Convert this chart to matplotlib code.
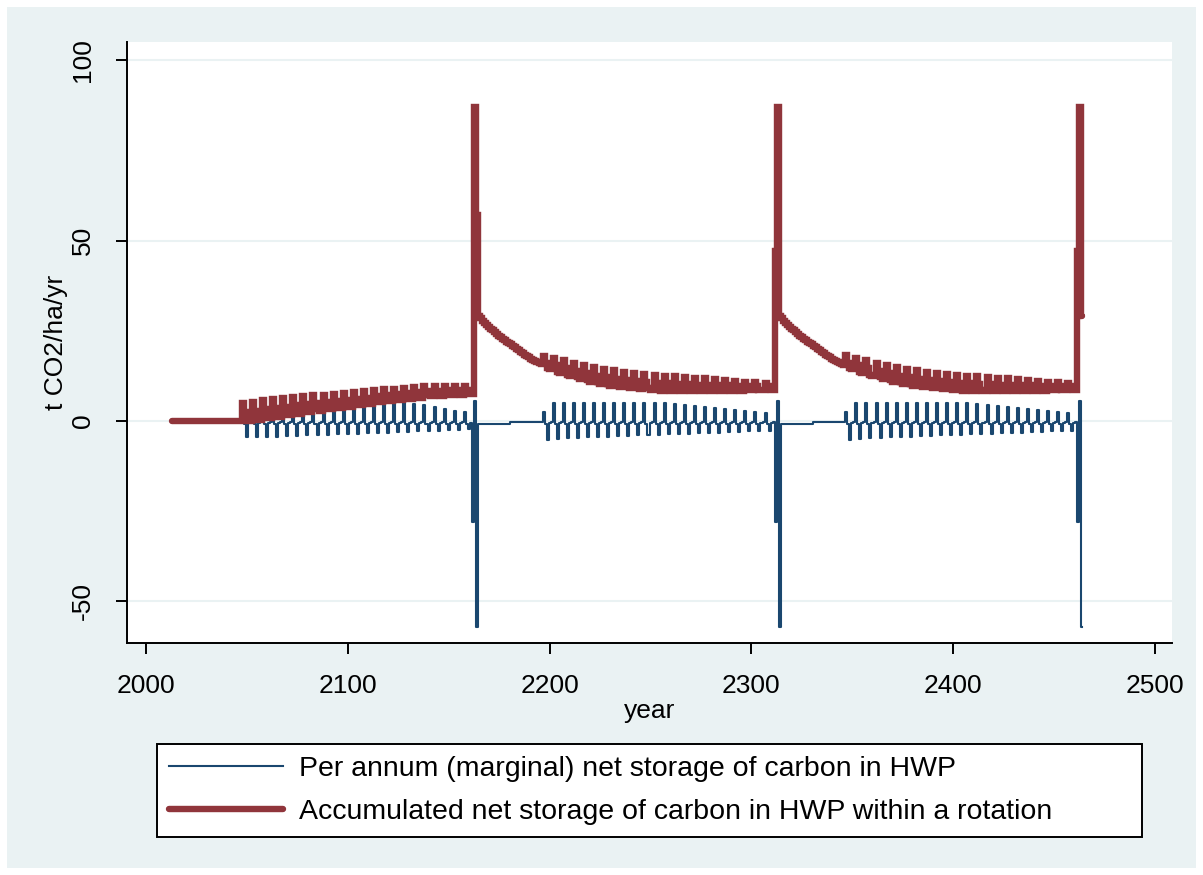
import numpy as np
import matplotlib
matplotlib.use('Agg')
from matplotlib import pyplot as plt
from matplotlib.patches import Rectangle

plt.rcParams['font.family'] = ['Liberation Sans', 'DejaVu Sans']

first_year = 2013

# accumulated net storage of carbon in HWP within a rotation (t CO2/ha/yr), one value per year
acc_before_thin = [  # 2013-2047
    0.0, 0.0, 0.0, 0.0, 0.0, 0.0, 0.0,
    0.0, 0.0, 0.0, 0.0, 0.0, 0.0, 0.0,
    0.0, 0.0, 0.0, 0.0, 0.0, 0.0, 0.0,
    0.0, 0.0, 0.0, 0.0, 0.0, 0.0, 0.0,
    0.0, 0.0, 0.0, 0.0, 0.0, 0.0, 0.0,
]
acc_rot1 = [  # 2048-2162, thinning every 5 years
    5.0, 2.5, 0.5, 0.0, 0.0,
    5.4, 2.9, 0.9, 0.4, 0.4,
    5.7, 3.2, 1.3, 0.8, 0.8,
    6.0, 3.6, 1.7, 1.2, 1.2,
    6.3, 4.0, 2.1, 1.6, 1.6,
    6.6, 4.3, 2.5, 2.0, 2.0,
    6.9, 4.7, 2.9, 2.4, 2.4,
    7.1, 5.0, 3.2, 2.8, 2.8,
    7.3, 5.3, 3.6, 3.2, 3.2,
    7.5, 5.6, 4.0, 3.6, 3.6,
    7.7, 5.9, 4.4, 4.0, 4.0,
    7.9, 6.2, 4.8, 4.4, 4.4,
    8.2, 6.5, 5.1, 4.8, 4.8,
    8.5, 6.9, 5.5, 5.2, 5.2,
    8.8, 7.2, 5.9, 5.6, 5.6,
    9.0, 7.5, 6.2, 5.9, 5.9,
    9.2, 7.7, 6.5, 6.2, 6.2,
    9.4, 8.0, 6.8, 6.5, 6.5,
    9.6, 8.2, 7.1, 6.8, 6.8,
    9.7, 8.4, 7.3, 7.0, 7.0,
    9.8, 8.5, 7.5, 7.2, 7.2,
    9.7, 8.5, 7.5, 7.3, 7.3,
    9.6, 8.5, 7.6, 7.4, 7.4,
]
acc_harvest1 = [87.0, 57.0]  # 2163-2164
acc_regrow2 = [  # 2165-2196
    29.0, 28.4, 27.8, 27.2, 26.6, 26.1, 25.6, 25.1,
    24.6, 24.1, 23.6, 23.2, 22.8, 22.4, 22.0, 21.6,
    21.2, 20.8, 20.4, 20.0, 19.6, 19.2, 18.8, 18.4,
    18.0, 17.6, 17.3, 17.0, 16.7, 16.4, 16.1, 15.8,
]
acc_rot2 = [  # 2197-2311
    18.1, 16.2, 14.7, 14.3, 14.3,
    17.5, 15.4, 13.7, 13.3, 13.3,
    16.8, 14.6, 12.8, 12.4, 12.4,
    16.1, 13.9, 12.1, 11.6, 11.6,
    15.5, 13.2, 11.4, 10.9, 10.9,
    14.9, 12.6, 10.8, 10.3, 10.3,
    14.4, 12.1, 10.3, 9.8, 9.8,
    14.0, 11.7, 9.9, 9.4, 9.4,
    13.7, 11.4, 9.6, 9.1, 9.1,
    13.3, 11.1, 9.3, 8.8, 8.8,
    13.1, 10.9, 9.1, 8.6, 8.6,
    12.8, 10.6, 8.8, 8.4, 8.4,
    12.6, 10.5, 8.7, 8.3, 8.3,
    12.4, 10.3, 8.6, 8.2, 8.2,
    12.2, 10.2, 8.6, 8.2, 8.2,
    12.0, 10.1, 8.6, 8.2, 8.2,
    11.9, 10.1, 8.7, 8.3, 8.3,
    11.6, 10.0, 8.6, 8.3, 8.3,
    11.4, 9.9, 8.7, 8.4, 8.4,
    11.1, 9.8, 8.7, 8.4, 8.4,
    10.9, 9.7, 8.7, 8.5, 8.5,
    10.7, 9.6, 8.7, 8.5, 8.5,
    10.6, 9.6, 8.8, 8.6, 8.6,
]
acc_harvest2 = [47.0, 87.0]  # 2312-2313
acc_regrow3 = [  # 2314-2346
    29.0, 28.4, 27.8, 27.2, 26.6, 26.1, 25.6, 25.1,
    24.6, 24.1, 23.6, 23.2, 22.8, 22.4, 22.0, 21.6,
    21.2, 20.8, 20.4, 20.0, 19.6, 19.2, 18.8, 18.4,
    18.0, 17.6, 17.3, 17.0, 16.7, 16.4, 16.1, 15.8, 15.5,
]
acc_rot3 = [  # 2347-2461
    18.2, 16.2, 14.7, 14.3, 14.3,
    17.5, 15.4, 13.7, 13.3, 13.3,
    16.8, 14.6, 12.8, 12.4, 12.4,
    16.1, 13.9, 12.1, 11.6, 11.6,
    15.5, 13.2, 11.4, 10.9, 10.9,
    14.9, 12.6, 10.8, 10.3, 10.3,
    14.4, 12.1, 10.3, 9.8, 9.8,
    14.0, 11.7, 9.9, 9.4, 9.4,
    13.7, 11.4, 9.6, 9.1, 9.1,
    13.3, 11.1, 9.3, 8.8, 8.8,
    13.1, 10.9, 9.1, 8.6, 8.6,
    12.8, 10.6, 8.8, 8.4, 8.4,
    12.6, 10.5, 8.7, 8.3, 8.3,
    12.4, 10.3, 8.6, 8.2, 8.2,
    12.2, 10.2, 8.6, 8.2, 8.2,
    12.0, 10.1, 8.6, 8.2, 8.2,
    11.9, 10.1, 8.7, 8.3, 8.3,
    11.6, 10.0, 8.6, 8.3, 8.3,
    11.4, 9.9, 8.7, 8.4, 8.4,
    11.1, 9.8, 8.7, 8.4, 8.4,
    10.9, 9.7, 8.7, 8.5, 8.5,
    10.7, 9.6, 8.7, 8.5, 8.5,
    10.6, 9.6, 8.8, 8.6, 8.6,
]
acc_harvest3 = [47.0, 87.0, 29.0]  # 2462-2464

# per annum (marginal) net storage, one value per year
ann_before_thin = [  # 2013-2047
    0.0, 0.0, 0.0, 0.0, 0.0, 0.0, 0.0,
    0.0, 0.0, 0.0, 0.0, 0.0, 0.0, 0.0,
    0.0, 0.0, 0.0, 0.0, 0.0, 0.0, 0.0,
    0.0, 0.0, 0.0, 0.0, 0.0, 0.0, 0.0,
    0.0, 0.0, 0.0, 0.0, 0.0, 0.0, 0.0,
]
ann_rot1 = [  # 2048-2161
    1.0, -0.8, -4.4, -0.6, -0.3,
    1.2, -0.8, -4.4, -0.6, -0.3,
    1.4, -0.8, -4.3, -0.6, -0.3,
    1.6, -0.8, -4.3, -0.6, -0.3,
    1.8, -0.8, -4.2, -0.6, -0.3,
    2.0, -0.8, -4.1, -0.6, -0.3,
    2.3, -0.8, -4.0, -0.6, -0.3,
    2.6, -0.8, -3.9, -0.6, -0.3,
    2.9, -0.8, -3.8, -0.6, -0.3,
    3.2, -0.8, -3.7, -0.6, -0.3,
    3.5, -0.8, -3.6, -0.6, -0.3,
    3.8, -0.8, -3.5, -0.6, -0.3,
    4.1, -0.8, -3.4, -0.6, -0.3,
    4.4, -0.8, -3.3, -0.6, -0.3,
    4.7, -0.8, -3.2, -0.6, -0.3,
    5.0, -0.8, -3.1, -0.6, -0.3,
    5.2, -0.8, -3.0, -0.6, -0.3,
    4.8, -0.8, -2.9, -0.6, -0.3,
    4.3, -0.8, -2.8, -0.6, -0.3,
    3.8, -0.8, -2.7, -0.6, -0.3,
    3.3, -0.8, -2.6, -0.6, -0.3,
    2.8, -0.8, -2.4, -0.6, -0.3,
    2.4, -0.8, -2.2, -0.6,
]
ann_harvest1 = [-28.0, 5.5, -57.0]  # 2162-2164
ann_regrow2 = [  # 2165-2196
    -0.8, -0.8, -0.8, -0.8, -0.8, -0.8, -0.8, -0.8,
    -0.8, -0.8, -0.8, -0.8, -0.8, -0.8, -0.8, -0.8,
    -0.3, -0.3, -0.3, -0.3, -0.3, -0.3, -0.3, -0.3,
    -0.3, -0.3, -0.3, -0.3, -0.3, -0.3, -0.3, -0.3,
]
ann_rot2 = [  # 2197-2311
    2.6, -0.8, -5.3, -0.6, -0.3,
    5.0, -0.8, -5.0, -0.6, -0.3,
    5.0, -0.8, -4.8, -0.6, -0.3,
    5.0, -0.8, -4.6, -0.6, -0.3,
    5.0, -0.8, -4.5, -0.6, -0.3,
    5.0, -0.8, -4.4, -0.6, -0.3,
    5.0, -0.8, -4.3, -0.6, -0.3,
    5.0, -0.8, -4.2, -0.6, -0.3,
    5.0, -0.8, -4.1, -0.6, -0.3,
    5.0, -0.8, -4.0, -0.6, -0.3,
    5.0, -0.8, -3.9, -0.6, -0.3,
    5.0, -0.8, -3.8, -0.6, -0.3,
    5.0, -0.8, -3.7, -0.6, -0.3,
    4.8, -0.8, -3.6, -0.6, -0.3,
    4.5, -0.8, -3.5, -0.6, -0.3,
    4.2, -0.8, -3.4, -0.6, -0.3,
    3.9, -0.8, -3.3, -0.6, -0.3,
    3.6, -0.8, -3.2, -0.6, -0.3,
    3.3, -0.8, -3.1, -0.6, -0.3,
    3.0, -0.8, -3.0, -0.6, -0.3,
    2.7, -0.8, -2.9, -0.6, -0.3,
    2.4, -0.8, -2.8, -0.6, -0.3,
    2.2, -0.8, -2.7, -0.6, -0.3,
]
ann_harvest2 = [-28.0, 5.5, -57.0]  # 2312-2314
ann_regrow3 = [  # 2315-2346
    -0.8, -0.8, -0.8, -0.8, -0.8, -0.8, -0.8, -0.8,
    -0.8, -0.8, -0.8, -0.8, -0.8, -0.8, -0.8, -0.8,
    -0.3, -0.3, -0.3, -0.3, -0.3, -0.3, -0.3, -0.3,
    -0.3, -0.3, -0.3, -0.3, -0.3, -0.3, -0.3, -0.3,
]
ann_rot3 = [  # 2347-2461
    2.6, -0.8, -5.3, -0.6, -0.3,
    5.0, -0.8, -5.0, -0.6, -0.3,
    5.0, -0.8, -4.8, -0.6, -0.3,
    5.0, -0.8, -4.6, -0.6, -0.3,
    5.0, -0.8, -4.5, -0.6, -0.3,
    5.0, -0.8, -4.4, -0.6, -0.3,
    5.0, -0.8, -4.3, -0.6, -0.3,
    5.0, -0.8, -4.2, -0.6, -0.3,
    5.0, -0.8, -4.1, -0.6, -0.3,
    5.0, -0.8, -4.0, -0.6, -0.3,
    5.0, -0.8, -3.9, -0.6, -0.3,
    5.0, -0.8, -3.8, -0.6, -0.3,
    5.0, -0.8, -3.7, -0.6, -0.3,
    4.8, -0.8, -3.6, -0.6, -0.3,
    4.5, -0.8, -3.5, -0.6, -0.3,
    4.2, -0.8, -3.4, -0.6, -0.3,
    3.9, -0.8, -3.3, -0.6, -0.3,
    3.6, -0.8, -3.2, -0.6, -0.3,
    3.3, -0.8, -3.1, -0.6, -0.3,
    3.0, -0.8, -3.0, -0.6, -0.3,
    2.7, -0.8, -2.9, -0.6, -0.3,
    2.4, -0.8, -2.8, -0.6, -0.3,
    2.2, -0.8, -2.7, -0.6, -0.3,
]
ann_harvest3 = [-28.0, 5.5, -57.0]  # 2462-2464

x_ticks = [2000, 2100, 2200, 2300, 2400, 2500]
y_ticks = [-50, 0, 50, 100]
labels = ['Per annum (marginal) net storage of carbon in HWP',
          'Accumulated net storage of carbon in HWP within a rotation']

accumulated = (acc_before_thin + acc_rot1 + acc_harvest1 + acc_regrow2 + acc_rot2
               + acc_harvest2 + acc_regrow3 + acc_rot3 + acc_harvest3)
per_annum = (ann_before_thin + ann_rot1 + ann_harvest1 + ann_regrow2 + ann_rot2
             + ann_harvest2 + ann_regrow3 + ann_rot3 + ann_harvest3)
years = np.arange(first_year, first_year + len(accumulated))

W, H = 1203, 875
bg = '#eaf2f3'
fig = plt.figure(figsize=(W / 100, H / 100), dpi=100, facecolor='white')
fig.patches.append(Rectangle((7 / W, 7 / H), 1189 / W, 861 / H, transform=fig.transFigure,
                             facecolor=bg, edgecolor='none', zorder=-10))

ax = fig.add_axes([127 / W, 1 - 643 / H, 1045 / W, 601 / H])
ax.set_facecolor('white')
l1, = ax.plot(years, per_annum, color='#1a476f', lw=1.5, drawstyle='steps-mid')
l2, = ax.plot(years, accumulated, color='#90353b', lw=4.6, drawstyle='steps-mid',
              solid_joinstyle='miter', solid_capstyle='round')

ax.set_xlim(1990.6, 2508.4)
ax.set_ylim(-61.5, 105)
ax.set_xticks(x_ticks)
ax.set_yticks(y_ticks)
ax.set_yticklabels([str(v) for v in y_ticks], rotation=90, va='center')
ax.grid(axis='y', color=bg, lw=1.5)
ax.set_axisbelow(True)
ax.spines['top'].set_visible(False)
ax.spines['right'].set_visible(False)
ax.spines['left'].set_linewidth(1.4)
ax.spines['bottom'].set_linewidth(1.4)
ax.tick_params(length=8, width=1.4, labelsize=19)
ax.tick_params(axis='x', pad=14)
ax.tick_params(axis='y', pad=15)
ax.set_xlabel('year', fontsize=19, labelpad=1)
ax.set_ylabel('t CO2/ha/yr', fontsize=19, labelpad=2)

leg = fig.legend([l1, l2], labels, loc='center', mode='expand', fontsize=20.5,
                 bbox_to_anchor=(157 / W, 1 - 838 / H, 985 / W, 95 / H), borderaxespad=0,
                 fancybox=False, edgecolor='black', framealpha=1, handlelength=4.0,
                 handletextpad=0.55, labelspacing=0.62, borderpad=0.42)
leg.get_frame().set_linewidth(1.4)

fig.savefig('out.png', dpi=100, facecolor='white')
